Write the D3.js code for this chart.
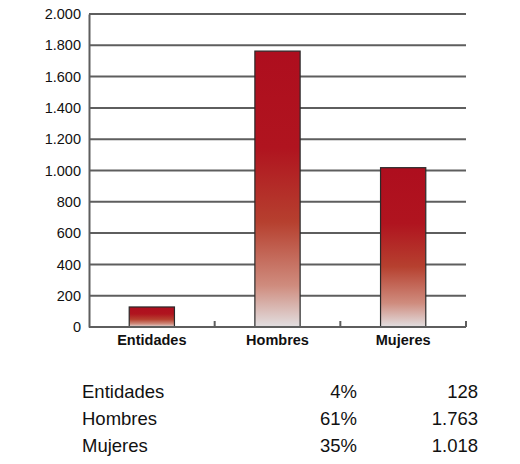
<!DOCTYPE html>
<html>
<head>
<meta charset="utf-8">
<script src="https://cdn.jsdelivr.net/npm/d3@7"></script>
<style>
  body { margin: 0; background: #fff; }
  text { font-family: "Liberation Sans", Arial, sans-serif; fill: #111; }
</style>
</head>
<body>
<div id="chart"></div>
<script>
var categories = ["Entidades", "Hombres", "Mujeres"];
var values = [128, 1763, 1018];
var percents = ["4%", "61%", "35%"];
var valueLabels = ["128", "1.763", "1.018"];
var yTicks = [0, 200, 400, 600, 800, 1000, 1200, 1400, 1600, 1800, 2000];

var width = 520, height = 464;
var plotLeft = 89, plotRight = 466, plotTop = 14, plotBottom = 327;

var svg = d3.select('#chart').append('svg')
  .attr('width', width)
  .attr('height', height);

var defs = svg.append('defs');
var grad = defs.append('linearGradient')
  .attr('id', 'barGrad')
  .attr('x1', 0).attr('y1', 0).attr('x2', 0).attr('y2', 1);
[[0, '#ae0e1e'], [0.35, '#b0141f'], [0.62, '#b6402f'], [0.85, '#cf8c7e'], [1, '#e2dfe1']]
  .forEach(function(s) {
    grad.append('stop').attr('offset', s[0]).attr('stop-color', s[1]);
  });

var x = d3.scaleBand()
  .domain(categories)
  .range([plotLeft, plotRight])
  .paddingInner(0.64)
  .paddingOuter(0.32);

var y = d3.scaleLinear()
  .domain([0, 2000])
  .range([plotBottom, plotTop]);

var fmt = function(d) { return d3.format(',')(d).replace(/,/g, '.'); };

// gridlines
svg.append('g')
  .selectAll('line')
  .data(yTicks.filter(function(d) { return d > 0; }))
  .join('line')
  .attr('x1', plotLeft).attr('x2', plotRight)
  .attr('y1', function(d) { return y(d); })
  .attr('y2', function(d) { return y(d); })
  .attr('stroke', '#5e5e5e')
  .attr('stroke-width', 2);

// y axis
var yAxis = svg.append('g')
  .attr('transform', `translate(${plotLeft}, 0)`)
  .call(d3.axisLeft(y).tickValues(yTicks).tickFormat(fmt).tickSize(0).tickPadding(8));
yAxis.select('.domain').attr('stroke', '#5e5e5e').attr('stroke-width', 2);
yAxis.selectAll('text')
  .style('font-size', '14.5px')
  .style('font-family', '"Liberation Sans", Arial, sans-serif')
  .attr('fill', '#111');

// bars
svg.append('g')
  .selectAll('rect')
  .data(values)
  .join('rect')
  .attr('x', function(d, i) { return x(categories[i]); })
  .attr('y', function(d) { return y(d); })
  .attr('width', x.bandwidth())
  .attr('height', function(d) { return plotBottom - y(d); })
  .attr('fill', 'url(#barGrad)')
  .attr('stroke', '#2a2a2a')
  .attr('stroke-width', 1.2);

// x axis
var step = x.step();
var xAxis = svg.append('g')
  .attr('transform', `translate(0, ${plotBottom})`);
xAxis.append('line')
  .attr('x1', plotLeft).attr('x2', plotRight)
  .attr('stroke', '#5e5e5e').attr('stroke-width', 2);
xAxis.selectAll('line.tk')
  .data(categories)
  .join('line')
  .attr('class', 'tk')
  .attr('x1', function(d) { return x(d) + x.bandwidth() / 2 + step / 2; })
  .attr('x2', function(d) { return x(d) + x.bandwidth() / 2 + step / 2; })
  .attr('y1', 0).attr('y2', -6)
  .attr('stroke', '#5e5e5e').attr('stroke-width', 2);
xAxis.selectAll('text')
  .data(categories)
  .join('text')
  .attr('x', function(d) { return x(d) + x.bandwidth() / 2; })
  .attr('y', 18)
  .attr('text-anchor', 'middle')
  .style('font-size', '14.5px')
  .style('font-weight', 'bold')
  .text(function(d) { return d; });

// table below
var table = svg.append('g');
var rowY = d3.scalePoint().domain(categories).range([398, 452]);
table.selectAll('text.name')
  .data(categories)
  .join('text')
  .attr('class', 'name')
  .attr('x', 82)
  .attr('y', function(d) { return rowY(d); })
  .style('font-size', '18.5px')
  .text(function(d) { return d; });
table.selectAll('text.pct')
  .data(percents)
  .join('text')
  .attr('class', 'pct')
  .attr('x', 357)
  .attr('y', function(d, i) { return rowY(categories[i]); })
  .attr('text-anchor', 'end')
  .style('font-size', '18.5px')
  .text(function(d) { return d; });
table.selectAll('text.val')
  .data(valueLabels)
  .join('text')
  .attr('class', 'val')
  .attr('x', 478)
  .attr('y', function(d, i) { return rowY(categories[i]); })
  .attr('text-anchor', 'end')
  .style('font-size', '18.5px')
  .text(function(d) { return d; });
</script>
</body>
</html>
